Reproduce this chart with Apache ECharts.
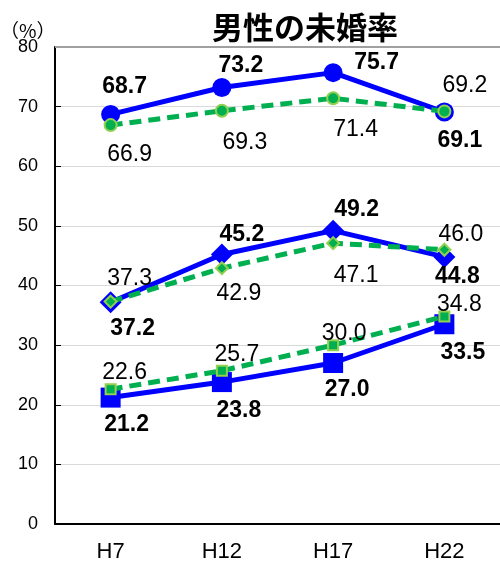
<!DOCTYPE html>
<html>
<head>
<meta charset="utf-8">
<script src="https://cdn.jsdelivr.net/npm/echarts@6/dist/echarts.min.js"></script>
<style>
  html, body { margin: 0; padding: 0; background: #fff; }
  #chart { width: 500px; height: 568px; }
</style>
</head>
<body>
<div id="chart"></div>
<script>
// Survey years and unmarried-rate values (%)
const years = ['H7', 'H12', 'H17', 'H22'];
const upperSolid  = [68.7, 73.2, 75.7, 69.1];
const upperDashed = [66.9, 69.3, 71.4, 69.2];
const middleSolid  = [37.2, 45.2, 49.2, 44.8];
const middleDashed = [37.3, 42.9, 47.1, 46.0];
const lowerSolid  = [21.2, 23.8, 27.0, 33.5];
const lowerDashed = [22.6, 25.7, 30.0, 34.8];

// Value-label placement relative to each marker centre (px)
const labelShift = {
  upperSolid:   [[14, -28], [19, -21.5], [43.5, -10], [15.5, 29]],
  upperDashed:  [[19, 30], [23, 32], [22.5, 31], [20.5, -26]],
  middleSolid:  [[22, 26], [20, -20], [23.5, -21], [13, 20]],
  middleDashed: [[19, -23], [17, 25], [23, 32], [16.5, -15]],
  lowerSolid:   [[16, 27], [17, 29], [14, 27], [18.5, 28.5]],
  lowerDashed:  [[14, -16.5], [15, -16], [11, -11.5], [15, -12]]
};

const BLUE = '#0000ff';
const GREEN = '#00b050';
const GREEN_EDGE = '#92d050';
const FONT = '"Liberation Sans", Arial, sans-serif';

function withLabels(values, shifts) {
  return values.map((v, i) => ({ value: v, label: { offset: shifts[i] } }));
}

function solidSeries(values, shifts, symbol, size) {
  return {
    type: 'line',
    data: withLabels(values, shifts),
    symbol: symbol,
    symbolSize: size,
    lineStyle: { color: BLUE, width: 5 },
    itemStyle: { color: BLUE },
    label: {
      show: true, position: 'inside', color: '#000',
      fontSize: 23, fontWeight: 'bold', fontFamily: FONT,
      formatter: p => p.value.toFixed(1)
    },
    emphasis: { disabled: true },
    z: 2
  };
}

function dashedSeries(values, shifts, symbol, size) {
  return {
    type: 'line',
    data: withLabels(values, shifts),
    symbol: symbol,
    symbolSize: size,
    lineStyle: { color: GREEN, width: 5, type: [12, 7] },
    itemStyle: { color: GREEN, borderColor: GREEN_EDGE, borderWidth: 2 },
    label: {
      show: true, position: 'inside', color: '#000',
      fontSize: 23, fontWeight: 'normal', fontFamily: FONT,
      formatter: p => p.value.toFixed(1)
    },
    emphasis: { disabled: true },
    z: 3
  };
}

const chart = echarts.init(document.getElementById('chart'));

const series = [
  solidSeries(upperSolid, labelShift.upperSolid, 'circle', 19),
  solidSeries(middleSolid, labelShift.middleSolid, 'diamond', 22),
  solidSeries(lowerSolid, labelShift.lowerSolid, 'rect', 20),
  dashedSeries(upperDashed, labelShift.upperDashed, 'circle', 12),
  dashedSeries(middleDashed, labelShift.middleDashed, 'diamond', 12),
  dashedSeries(lowerDashed, labelShift.lowerDashed, 'rect', 10)
];

// darker top frame line at the axis maximum
series[0].markLine = {
  silent: true, symbol: 'none', label: { show: false },
  lineStyle: { color: '#a0a0a0', width: 2, type: 'solid' },
  data: [{ yAxis: 80 }]
};

chart.setOption({
  animation: false,
  backgroundColor: '#fff',
  grid: { left: 55, right: 0, top: 47, bottom: 44, containLabel: false },
  xAxis: {
    type: 'category',
    data: years,
    boundaryGap: true,
    axisLine: { lineStyle: { color: '#000', width: 2 } },
    axisTick: { inside: true, length: 6, lineStyle: { color: '#000', width: 1 } },
    axisLabel: { fontSize: 22, color: '#000', margin: 17, fontFamily: FONT }
  },
  yAxis: {
    type: 'value',
    min: 0, max: 80, interval: 10,
    axisLine: { show: true, lineStyle: { color: '#000', width: 2 } },
    axisTick: { show: true, inside: true, length: 6, lineStyle: { color: '#000', width: 1 } },
    axisLabel: { fontSize: 18, color: '#000', margin: 17, fontFamily: FONT },
    splitLine: { lineStyle: { color: '#d9d9d9', width: 1 } }
  },
  graphic: [
    {
      type: 'text', left: 212, top: 12,
      style: { text: '男性の未婚率', font: 'bold 31px "Noto Sans CJK JP"', fill: '#000' }
    },
    {
      type: 'text', left: 0, top: 21,
      style: { text: '（%）', font: '19px "Noto Sans CJK JP"', fill: '#000' }
    }
  ],
  series: series
});
</script>
</body>
</html>
